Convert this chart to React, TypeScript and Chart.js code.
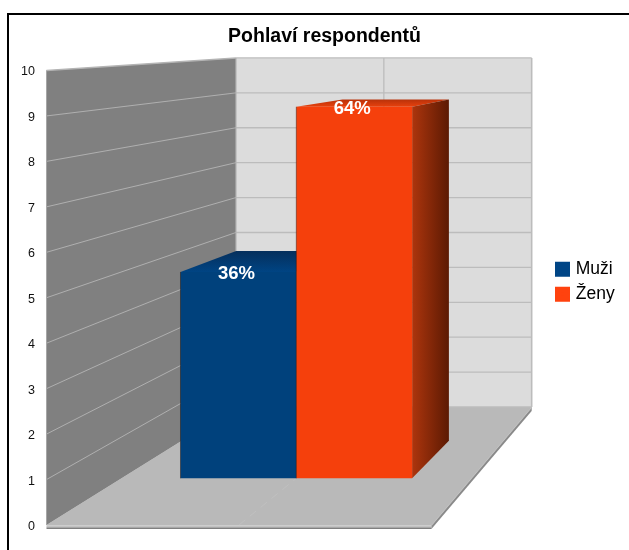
import React, { useEffect, useRef } from "react";
import { Chart, registerables } from "chart.js";

Chart.register(...registerables);

const chartTitle = "Pohlaví respondentů";
const categories = [""];
const seriesNames = ["Muži", "Ženy"];
const muziValues = [5];
const zenyValues = [9];
const percentLabels = ["36%", "64%"];
const legendColors = ["#004586", "#ff420e"];
const frontColors = ["#00417c", "#f5400c"];
const topColors = [["#052f5c", "#004483"], ["#b8320a", "#e8410d"]];
const sideColors = [["#00305c", "#001c38"], ["#ad350d", "#5c1a03"]];

const SANS = '"Liberation Sans", Arial, sans-serif';
const VP = { x: 863.3, y: 16.4 };
const S_BACK = 0.232;
const S_BAR_FRONT = 0.0918;
const S_BAR_BACK = 0.1658;

const pr = (x: number, y: number, s: number): [number, number] => [x + (VP.x - x) * s, y + (VP.y - y) * s];

function poly(ctx: CanvasRenderingContext2D, pts: [number, number][], fill: any) {
  ctx.beginPath();
  pts.forEach((p, i) => (i ? ctx.lineTo(p[0], p[1]) : ctx.moveTo(p[0], p[1])));
  ctx.closePath();
  ctx.fillStyle = fill;
  ctx.fill();
}

function line(ctx: CanvasRenderingContext2D, a: [number, number], b: [number, number], color: string, w: number) {
  ctx.beginPath();
  ctx.moveTo(a[0], a[1]);
  ctx.lineTo(b[0], b[1]);
  ctx.strokeStyle = color;
  ctx.lineWidth = w;
  ctx.stroke();
}

const scene3d = {
  id: "scene3d",
  afterLayout(chart: any) {
    chart.titleBlock.left = 20;
    chart.titleBlock.right = 629;
    const lg = chart.legend;
    lg.left = 550.4;
    lg.top = 252.9;
    lg.right = 629;
    lg.bottom = 320;
    const ys = chart.scales.y;
    if (!ys.__shifted) {
      ys.__shifted = true;
      const orig = ys.drawLabels;
      ys.drawLabels = function (area: any) {
        const c = this.ctx;
        c.save();
        c.translate(0, 1.5);
        orig.call(this, area);
        c.restore();
      };
    }
  },
  beforeDraw(chart: any) {
    const ctx = chart.ctx;
    ctx.save();
    ctx.fillStyle = "#000";
    ctx.fillRect(7, 13, 622, 2);
    ctx.fillRect(7, 13, 2, 537);
    ctx.restore();
  },
  beforeDatasetsDraw(chart: any) {
    const ctx: CanvasRenderingContext2D = chart.ctx;
    const xs = chart.scales.x;
    const ys = chart.scales.y;
    const L = xs.left;
    const R = xs.right;
    const y0 = ys.getPixelForValue(ys.min);
    const yT = ys.getPixelForValue(ys.max);
    ctx.save();

    // floor edge
    ctx.fillStyle = "#cdcdcd";
    ctx.fillRect(L, y0, R - L, 1.5);
    ctx.fillStyle = "#a0a0a0";
    ctx.fillRect(L, y0 + 1.5, R - L, 1);
    ctx.fillStyle = "#808080";
    ctx.fillRect(L, y0 + 2.5, R - L, 1.5);
    const fr = pr(R, y0, 0);
    const br = pr(R, y0, S_BACK);
    poly(ctx, [fr, br, [br[0], br[1] + 4], [fr[0], fr[1] + 4]], "#8a8a8a");
    line(ctx, fr, br, "#c4c4c4", 1.2);

    // floor
    poly(ctx, [pr(L, y0, 0), pr(L, y0, S_BACK), br, fr], "#b9b9b9");

    // left wall
    poly(ctx, [pr(L, y0, 0), pr(L, yT, 0), pr(L, yT, S_BACK), pr(L, y0, S_BACK)], "#808080");
    // back wall
    poly(ctx, [pr(L, y0, S_BACK), pr(L, yT, S_BACK), pr(R, yT, S_BACK), pr(R, y0, S_BACK)], "#dcdcdc");

    // grid
    ys.ticks.forEach((t: any) => {
      const y = ys.getPixelForValue(t.value);
      if (t.value !== ys.min) {
        line(ctx, pr(L, y, 0), pr(L, y, S_BACK), "#b4b4b4", t.value === ys.max ? 1.4 : 0.9);
      }
      line(ctx, pr(L, y, S_BACK), pr(R, y, S_BACK), "#bcbcbc", 1.3);
    });
    const cx = xs.getPixelForTick(0);
    line(ctx, pr(cx, yT, S_BACK), pr(cx, y0, S_BACK), "#bcbcbc", 1.3);
    line(ctx, pr(L, yT, 0), pr(L, y0, 0), "#a6a6a6", 1);
    line(ctx, pr(L, yT, S_BACK), pr(L, y0, S_BACK), "#b4b4b4", 1.2);
    line(ctx, pr(R, yT, S_BACK), pr(R, y0, S_BACK), "#bcbcbc", 1.6);
    ctx.setLineDash([8, 6]);
    line(ctx, pr(cx, y0, 0), pr(cx, y0, S_BACK), "#c2c2c2", 0.8);
    ctx.setLineDash([]);

    // boxes
    chart.data.datasets.forEach((_: any, di: number) => {
      const meta = chart.getDatasetMeta(di);
      meta.data.forEach((bar: any) => {
        const left = bar.x - bar.width / 2;
        const right = bar.x + bar.width / 2;
        const top = bar.y;
        const base = bar.base;
        // top face
        const tfl = pr(left, top, S_BAR_FRONT);
        const tfr = pr(right, top, S_BAR_FRONT);
        const tbr = pr(right, top, S_BAR_BACK);
        const tbl = pr(left, top, S_BAR_BACK);
        const gt = ctx.createLinearGradient(0, tbl[1], 0, tfl[1]);
        gt.addColorStop(0, topColors[di][0]);
        gt.addColorStop(1, topColors[di][1]);
        poly(ctx, [tfl, tfr, tbr, tbl], gt);
        // right face
        const bfr = pr(right, base, S_BAR_FRONT);
        const bbr = pr(right, base, S_BAR_BACK);
        const gs = ctx.createLinearGradient(tfr[0], 0, tbr[0], 0);
        gs.addColorStop(0, sideColors[di][0]);
        gs.addColorStop(1, sideColors[di][1]);
        poly(ctx, [tfr, tbr, bbr, bfr], gs);
      });
      // front face: the library's own bar element, in the plane of the box
      ctx.save();
      ctx.translate(VP.x, VP.y);
      ctx.scale(1 - S_BAR_FRONT, 1 - S_BAR_FRONT);
      ctx.translate(-VP.x, -VP.y);
      meta.controller.draw();
      ctx.restore();
      meta.data.forEach((bar: any) => {
        const left = bar.x - bar.width / 2;
        line(ctx, pr(left, bar.y, S_BAR_FRONT), pr(left, bar.base, S_BAR_FRONT), "rgba(40,20,10,0.45)", 1);
      });
    });

    // percent labels
    ctx.font = `bold 18.5px ${SANS}`;
    ctx.textAlign = "center";
    ctx.textBaseline = "middle";
    ctx.fillStyle = "#fff";
    chart.data.datasets.forEach((_: any, di: number) => {
      const bar = chart.getDatasetMeta(di).data[0];
      const p = pr(bar.x, bar.y, S_BAR_FRONT);
      ctx.fillText(percentLabels[di], p[0] - 2, p[1] + 2);
    });
    ctx.restore();
    return false;
  },
};

export default function App() {
  const ref = useRef<HTMLCanvasElement>(null);
  useEffect(() => {
    const chart = new Chart(ref.current!, {
      type: "bar",
      data: {
        labels: categories,
        datasets: [
          { label: seriesNames[0], data: muziValues, backgroundColor: frontColors[0] },
          { label: seriesNames[1], data: zenyValues, backgroundColor: frontColors[1] },
        ],
      },
      plugins: [scene3d],
      options: {
        responsive: false,
        animation: false,
        events: [],
        layout: { padding: { left: 0, right: 197.5, top: 0, bottom: 25 } },
        datasets: { bar: { categoryPercentage: 0.6625, barPercentage: 1 } },
        scales: {
          x: { display: false, grid: { display: false } },
          y: {
            min: 0,
            max: 10,
            afterFit: (s: any) => {
              s.width = 46.5;
            },
            grid: { display: false, drawTicks: false },
            border: { display: false },
            ticks: {
              stepSize: 1,
              padding: 11.5,
              color: "#111",
              font: { family: SANS, size: 12.5 },
            },
          },
        },
        plugins: {
          tooltip: { enabled: false },
          title: {
            display: true,
            text: chartTitle,
            color: "#000",
            font: { family: SANS, size: 19.5, weight: "bold" },
            padding: { top: 25.3, bottom: 21.8 },
          },
          legend: {
            position: "chartArea",
            align: "start",
            labels: {
              boxWidth: 9,
              boxHeight: 9,
              padding: 7.6,
              color: "#111",
              font: { family: SANS, size: 17.5 },
              generateLabels: (c: any) =>
                c.data.datasets.map((d: any, i: number) => ({
                  text: d.label,
                  fillStyle: legendColors[i],
                  strokeStyle: legendColors[i],
                  lineWidth: 6,
                  hidden: false,
                  datasetIndex: i,
                })),
            },
          },
        },
      },
    } as any);
    return () => chart.destroy();
  }, []);
  return (
    <div style={{ position: "fixed", left: 0, top: 0 }}>
      <canvas ref={ref} width={629} height={550} style={{ display: "block" }} />
    </div>
  );
}
